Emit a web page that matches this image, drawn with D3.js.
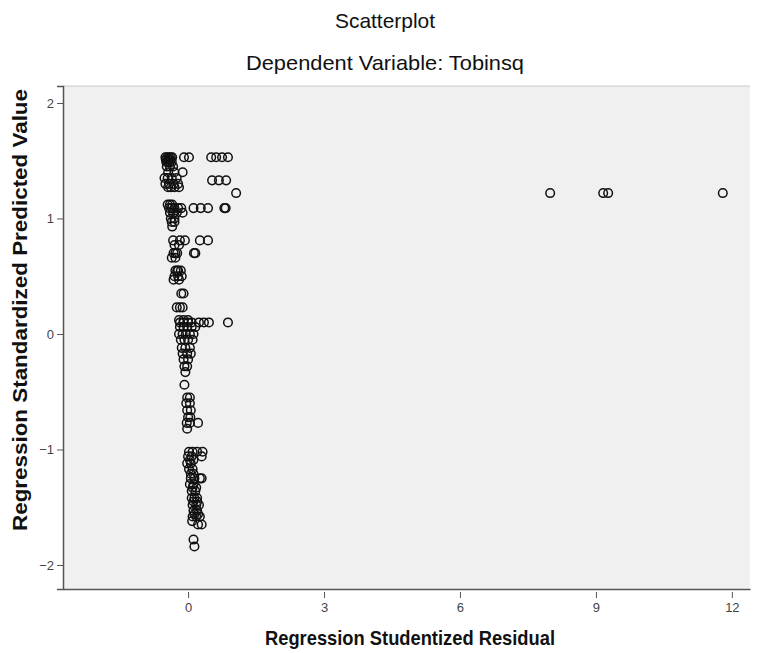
<!DOCTYPE html>
<html>
<head>
<meta charset="utf-8">
<script src="https://cdn.jsdelivr.net/npm/d3@7"></script>
<style>
    body { margin: 0; background: #fff; }
    svg { display: block; }
</style>
</head>
<body>
<div id="chart"></div>
<script>
// predicted value of each row of points, and the residuals found on that row
let rowPredicted = [
    1.53, 1.51, 1.49, 1.45, 1.40, 1.35, 1.33, 1.30, 1.27, 1.22,
    1.12, 1.09, 1.05, 1.00, 0.97, 0.93,
    0.81, 0.77, 0.70, 0.66, 0.55, 0.50, 0.47, 0.35, 0.23,
    0.12, 0.10, 0.06, 0.00, -0.05, -0.12, -0.17, -0.22, -0.28, -0.33,
    -0.44, -0.55, -0.60, -0.66, -0.72, -0.77, -0.82,
    -1.02, -1.06, -1.09, -1.12, -1.17, -1.21, -1.25, -1.30, -1.33, -1.36,
    -1.42, -1.45, -1.48, -1.53, -1.56, -1.58, -1.62, -1.65, -1.78, -1.84
]
let rowResiduals = [
    [-0.50, -0.46, -0.42, -0.38, -0.35, -0.09, 0.02, 0.51, 0.62, 0.75, 0.88],
    [-0.49, -0.43, -0.39],
    [-0.48, -0.44, -0.40, -0.36],
    [-0.47, -0.40, -0.33],
    [-0.44, -0.30, -0.12],
    [-0.52, -0.45, -0.36, -0.25],
    [0.53, 0.68, 0.84],
    [-0.50, -0.42, -0.32, -0.22],
    [-0.44, -0.38, -0.30, -0.20],
    [1.06, 7.99, 9.16, 9.27, 11.8],
    [-0.45, -0.40, -0.35],
    [-0.42, -0.36, -0.30, -0.22, -0.15, 0.12, 0.28, 0.44, 0.80, 0.83],
    [-0.40, -0.33, -0.25, -0.12],
    [-0.38, -0.30],
    [-0.36, -0.30],
    [-0.35],
    [-0.33, -0.18, -0.07, 0.26, 0.44],
    [-0.30, -0.20],
    [-0.32, -0.28, -0.24, 0.13, 0.16],
    [-0.36, -0.28],
    [-0.28, -0.24, -0.22, -0.16],
    [-0.30, -0.22, -0.14],
    [-0.32, -0.20],
    [-0.15, -0.10],
    [-0.25, -0.18, -0.12],
    [-0.20, -0.10, 0.00],
    [-0.18, -0.10, 0.00, 0.08, 0.24, 0.35, 0.46, 0.88],
    [-0.18, -0.10, -0.02, 0.08, 0.16],
    [-0.20, -0.12, -0.05, 0.04, 0.12],
    [-0.16, -0.08, 0.00, 0.10],
    [-0.14, -0.06, 0.04],
    [-0.12, -0.02, 0.06],
    [-0.10, 0.00],
    [-0.08, -0.02],
    [-0.06],
    [-0.08],
    [-0.02, 0.04],
    [-0.04, 0.04],
    [-0.02, 0.06],
    [0.00, 0.05],
    [-0.03, 0.04, 0.22],
    [-0.02],
    [0.02, 0.10, 0.20, 0.32],
    [0.00, 0.08, 0.30],
    [0.04, 0.12],
    [-0.02, 0.06],
    [0.02, 0.10],
    [0.06, 0.12],
    [0.06, 0.14, 0.26, 0.30],
    [0.04, 0.12],
    [0.10, 0.18],
    [0.08, 0.16],
    [0.08, 0.14, 0.20],
    [0.12, 0.20],
    [0.10, 0.18, 0.24],
    [0.12, 0.20],
    [0.14, 0.22],
    [0.10, 0.18, 0.26],
    [0.09],
    [0.22, 0.30],
    [0.12],
    [0.14]
]

let xTicks = [0, 3, 6, 9, 12]
let yTicks = [-2, -1, 0, 1, 2]

let title = 'Scatterplot'
let subtitle = 'Dependent Variable: Tobinsq'
let xTitle = 'Regression Studentized Residual'
let yTitle = 'Regression Standardized Predicted Value'

let points = []
rowPredicted.forEach((p, i) => {
    rowResiduals[i].forEach(r => points.push({x: r, y: p}))
})

const width = 757
const height = 653
const margin = {top: 86, right: 7, bottom: 64, left: 63}
const fontFamily = '"Liberation Sans", Arial, sans-serif'

const svg = d3.select('#chart').append('svg')
    .attr('width', width)
    .attr('height', height)

const x = d3.scaleLinear()
    .domain([-2.76, 12.4])
    .range([margin.left, width - margin.right])

const y = d3.scaleLinear()
    .domain([-2.208, 2.147])
    .range([height - margin.bottom, margin.top])

// plot background
svg.append('rect')
    .attr('x', margin.left)
    .attr('y', margin.top)
    .attr('width', width - margin.right - margin.left)
    .attr('height', height - margin.bottom - margin.top)
    .attr('fill', '#f0f0f0')

svg.append('line')
    .attr('x1', margin.left).attr('x2', width - margin.right)
    .attr('y1', margin.top).attr('y2', margin.top)
    .attr('stroke', '#c8c8c8')

// points
svg.append('g')
    .selectAll('circle')
    .data(points)
    .join('circle')
    .attr('cx', d => x(d.x))
    .attr('cy', d => y(d.y))
    .attr('r', 4.3)
    .attr('fill', 'none')
    .attr('stroke', '#111')
    .attr('stroke-width', 1.5)

// axes
const xAxis = svg.append('g')
    .attr('transform', `translate(0,${height - margin.bottom})`)
    .call(d3.axisBottom(x).tickValues(xTicks).tickSize(0).tickPadding(14))
xAxis.select('.domain').attr('stroke', '#555').attr('stroke-width', 1.5)
xAxis.selectAll('.tick').append('line')
    .attr('y1', 3).attr('y2', 9)
    .attr('stroke', '#555')
xAxis.selectAll('text')
    .attr('font-family', fontFamily)
    .attr('font-size', 13)
    .attr('fill', '#444')

const yAxis = svg.append('g')
    .attr('transform', `translate(${margin.left},0)`)
    .call(d3.axisLeft(y).tickValues(yTicks).tickFormat(d3.format('d')).tickSize(6).tickPadding(3))
yAxis.select('.domain').attr('stroke', '#555').attr('stroke-width', 1.5)
yAxis.selectAll('.tick line').attr('stroke', '#555')
yAxis.selectAll('text')
    .attr('font-family', fontFamily)
    .attr('font-size', 13)
    .attr('fill', '#444')

// titles, squeezed to the narrow widths seen in the picture
function addTitle(text, tx, ty, size, bold, len, rotate) {
    svg.append('text')
        .attr('transform', `translate(${tx},${ty})` + (rotate ? ' rotate(-90)' : ''))
        .attr('text-anchor', 'middle')
        .attr('font-family', fontFamily)
        .attr('font-size', size)
        .attr('font-weight', bold ? 'bold' : 'normal')
        .attr('fill', '#111')
        .attr('textLength', len)
        .attr('lengthAdjust', 'spacingAndGlyphs')
        .text(text)
}

addTitle(title, 385, 28, 21, false, 100)
addTitle(subtitle, 385, 70, 21, false, 278)
addTitle(xTitle, 410, 645, 21, true, 290)
addTitle(yTitle, 27, 310, 21, true, 442, true)
</script>
</body>
</html>
